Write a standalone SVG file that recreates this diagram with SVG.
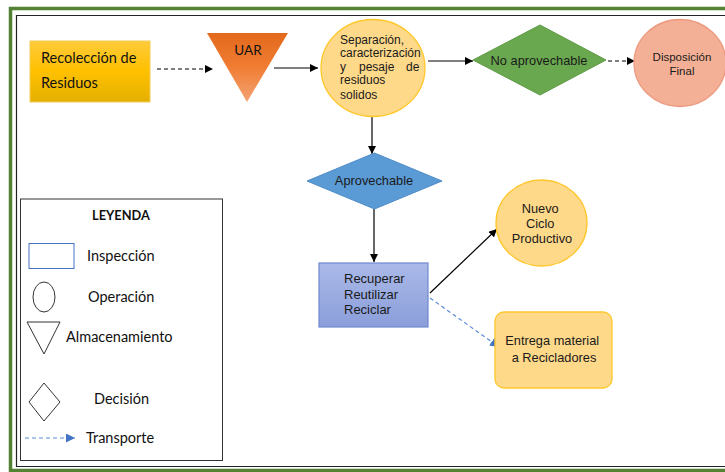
<svg xmlns="http://www.w3.org/2000/svg" width="725" height="472" viewBox="0 0 725 472">
<defs>
<linearGradient id="gGold" x1="0" y1="0" x2="0" y2="1">
<stop offset="0" stop-color="#FFCB3A"/><stop offset="0.5" stop-color="#FFC000"/><stop offset="1" stop-color="#E3B000"/>
</linearGradient>
<linearGradient id="gOrange" x1="0" y1="0" x2="0" y2="1">
<stop offset="0" stop-color="#E3691C"/><stop offset="0.5" stop-color="#F07D33"/><stop offset="1" stop-color="#F3A374"/>
</linearGradient>
<linearGradient id="gBlue" x1="0" y1="0" x2="0" y2="1">
<stop offset="0" stop-color="#AAB9E8"/><stop offset="1" stop-color="#8B9EDA"/>
</linearGradient>
<marker id="ah" viewBox="0 0 10 10" refX="10" refY="5" markerWidth="8" markerHeight="8" markerUnits="userSpaceOnUse" orient="auto">
<path d="M0,0 L10,5 L0,10 z" fill="#000"/>
</marker>
<marker id="ahb" viewBox="0 0 10 10" refX="10" refY="5" markerWidth="9" markerHeight="9" markerUnits="userSpaceOnUse" orient="auto">
<path d="M0,0 L10,5 L0,10 z" fill="#4472C4"/>
</marker>
</defs>
<style>
.t{font-family:"Liberation Sans",Arial,sans-serif;fill:#1a1a1a}
.c{font-family:Lato,"Liberation Sans",sans-serif;fill:#111}
.ln{stroke:#000;stroke-width:1.2;fill:none}
.dash{stroke:#000;stroke-width:1.2;fill:none;stroke-dasharray:4 3}
.bdash{stroke:#5B8BD8;stroke-width:1.2;fill:none;stroke-dasharray:4 3}
.lg{fill:#fff;stroke:#333;stroke-width:1}
</style>
<rect width="725" height="472" fill="#fff"/>
<g id="frame">
<path d="M728,8.5 H10.5 V470.5 H728" fill="none" stroke="#548235" stroke-width="3.5"/>
<path d="M728,15.5 H16.5 V466.5 H728" fill="none" stroke="#222" stroke-width="1.2"/>
</g>
<g id="connectors">
<line class="dash" x1="157" y1="69" x2="213" y2="69" marker-end="url(#ah)"/>
<line class="ln" x1="274" y1="68" x2="318" y2="68" marker-end="url(#ah)"/>
<line class="ln" x1="428" y1="61" x2="473" y2="61" marker-end="url(#ah)"/>
<line class="dash" x1="608" y1="61" x2="635" y2="61" stroke="#555" marker-end="url(#ah)"/>
<line class="ln" x1="372" y1="117" x2="372" y2="154" marker-end="url(#ah)"/>
<line class="ln" x1="374" y1="209" x2="374" y2="262" marker-end="url(#ah)"/>
<line class="ln" x1="430" y1="293" x2="497" y2="229" stroke="#222" stroke-width="1" marker-end="url(#ah)"/>
<line class="bdash" x1="430" y1="298" x2="499" y2="347" marker-end="url(#ahb)"/>
</g>
<g id="n-recoleccion">
<rect x="30" y="41" width="120" height="61" fill="url(#gGold)" stroke="#F4CC55" stroke-width="1"/>
<text class="c" x="41" y="63" font-size="14.5">Recolección de</text>
<text class="c" x="41" y="88" font-size="14.5">Residuos</text>
</g>
<g id="n-uar">
<polygon points="207,33 288,33 247,102" fill="url(#gOrange)"/>
<text class="c" x="248" y="55" font-size="13.5" text-anchor="middle">UAR</text>
</g>
<g id="n-separacion">
<ellipse cx="373" cy="68" rx="52" ry="48.5" fill="#FFD98A" stroke="#FFC72C" stroke-width="1.3"/>
<text class="t" font-size="12">
<tspan x="340" y="44">Separación,</tspan>
<tspan x="340" y="57">caracterización</tspan>
<tspan x="340" y="71">y</tspan><tspan x="359" y="71">pesaje</tspan><tspan x="406" y="71">de</tspan>
<tspan x="340" y="84">residuos</tspan>
<tspan x="340" y="99">solidos</tspan>
</text>
</g>
<g id="n-noaprovechable">
<polygon points="473,60 540,25 606,60 540,95" fill="#6AA84F" stroke="#5E9A45" stroke-width="1"/>
<text class="t" x="539" y="65" font-size="12.8" text-anchor="middle">No aprovechable</text>
</g>
<g id="n-disposicion">
<ellipse cx="680" cy="63" rx="46" ry="43.5" fill="#F4B096" stroke="#EC9A80" stroke-width="1.3"/>
<text class="t" x="682" y="61" font-size="11.5" text-anchor="middle">Disposición</text>
<text class="t" x="682" y="75" font-size="11.5" text-anchor="middle">Final</text>
</g>
<g id="n-aprovechable">
<polygon points="307,181 374.5,153 442,181 374.5,209" fill="#5B9BD5" stroke="#4E8CC8" stroke-width="1"/>
<text class="t" x="374" y="185" font-size="12.8" text-anchor="middle">Aprovechable</text>
</g>
<g id="n-recuperar">
<rect x="319" y="263" width="109" height="64" fill="url(#gBlue)" stroke="#7189D0" stroke-width="1.2"/>
<text class="t" font-size="13">
<tspan x="344" y="283">Recuperar</tspan>
<tspan x="344" y="299">Reutilizar</tspan>
<tspan x="344" y="314">Reciclar</tspan>
</text>
</g>
<g id="n-nuevociclo">
<ellipse cx="541.5" cy="223" rx="45.5" ry="43" fill="#FFD98A" stroke="#FFC72C" stroke-width="1.3"/>
<text class="t" font-size="12.8" text-anchor="middle">
<tspan x="542" y="213">Nuevo</tspan>
<tspan x="542" y="228">Ciclo</tspan>
<tspan x="542" y="243">Productivo</tspan>
</text>
</g>
<g id="n-entrega">
<rect x="495" y="312" width="117" height="76" rx="9" fill="#FFD98A" stroke="#FFC72C" stroke-width="1.3"/>
<text class="t" font-size="12.8" text-anchor="middle">
<tspan x="554" y="345">Entrega material</tspan>
<tspan x="554" y="362">a Recicladores</tspan>
</text>
</g>
<g id="legend">
<rect x="20.5" y="199" width="202" height="261.5" class="lg"/>
<text class="c" x="121" y="220" font-size="12.8" font-weight="bold" text-anchor="middle">LEYENDA</text>
<rect x="29" y="243.5" width="45" height="25" fill="#fff" stroke="#4472C4" stroke-width="1"/>
<text class="c" x="87" y="261" font-size="14.5">Inspección</text>
<ellipse cx="44" cy="297" rx="11" ry="15" fill="#fff" stroke="#333" stroke-width="1"/>
<text class="c" x="88" y="302" font-size="14.5">Operación</text>
<polygon points="27,322 60,322 44,354" fill="#fff" stroke="#333" stroke-width="1"/>
<text class="c" x="66" y="342" font-size="14.5">Almacenamiento</text>
<polygon points="29,402 44,383 60,402 44,421" fill="#fff" stroke="#333" stroke-width="1"/>
<text class="c" x="94" y="404" font-size="14.5">Decisión</text>
<line class="bdash" x1="25" y1="438" x2="75" y2="438" marker-end="url(#ahb)"/>
<text class="c" x="86" y="443" font-size="14.5">Transporte</text>
</g>
</svg>
